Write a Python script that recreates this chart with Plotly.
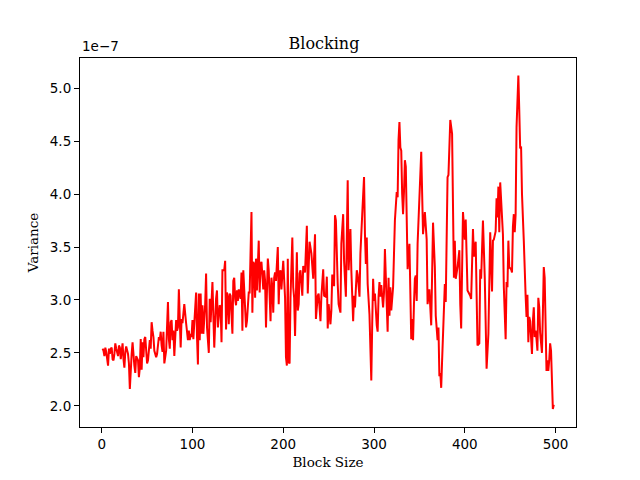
import plotly.graph_objects as go

# block sizes and variance (units of 1e-7)
block_size = [
    1, 2, 3, 4, 5, 7, 8, 9, 10, 11, 12, 13, 14, 15, 16, 18, 19, 20, 21, 22,
    23, 24, 25, 26, 27, 29, 30, 31, 32, 33, 34, 35, 36, 37, 38, 40, 41, 42, 43, 44,
    45, 46, 47, 48, 50, 51, 52, 53, 54, 55, 56, 57, 58, 60, 61, 62, 63, 64, 65, 66,
    67, 68, 69, 71, 72, 73, 74, 75, 76, 77, 78, 79, 80, 82, 83, 84, 85, 86, 87, 88,
    89, 90, 91, 93, 94, 95, 96, 97, 98, 99, 100, 101, 102, 104, 105, 106, 107, 108,
    109, 110, 111, 112, 114, 115, 116, 118, 119, 120, 122, 123, 124, 126, 127, 128,
    130, 131, 132, 133, 135, 136, 137, 138, 139, 140, 141, 142, 144, 145, 146, 147,
    148, 149, 150, 151, 153, 154, 155, 156, 157, 158, 159, 160, 162, 163, 164, 165,
    166, 167, 168, 169, 170, 171, 173, 174, 175, 176, 177, 178, 179, 180, 181, 183,
    184, 185, 186, 187, 188, 189, 190, 191, 192, 194, 195, 196, 197, 198, 199, 200,
    202, 203, 204, 205, 206, 207, 208, 210, 211, 212, 213, 214, 215, 216, 217, 218,
    219, 221, 222, 224, 226, 227, 229, 231, 233, 235, 236, 238, 239, 241, 242, 244,
    245, 247, 248, 249, 250, 252, 253, 254, 256, 257, 258, 260, 261, 263, 264, 266,
    267, 269, 271, 272, 274, 275, 277, 278, 279, 281, 282, 284, 285, 287, 289, 290,
    291, 292, 293, 295, 296, 297, 298, 299, 300, 301, 303, 304, 305, 306, 307, 308,
    310, 311, 312, 314, 315, 316, 317, 318, 319, 321, 322, 323, 325, 326, 327, 328,
    329, 330, 331, 332, 333, 334, 335, 336, 337, 339, 340, 341, 342, 343, 344, 345,
    346, 347, 348, 350, 352, 354, 356, 358, 359, 361, 362, 363, 365, 367, 368, 370,
    371, 372, 373, 374, 375, 376, 378, 379, 381, 382, 384, 386, 387, 388, 389, 390,
    392, 394, 395, 396, 398, 400, 401, 402, 403, 406, 407, 409, 410, 412, 413, 414,
    416, 417, 418, 419, 420, 422, 423, 424, 426, 427, 428, 430, 431, 432, 434, 435,
    436, 437, 438, 439, 441, 442, 443, 445, 446, 447, 448, 449, 451, 452, 453, 454,
    455, 456, 457, 459, 460, 461, 462, 463, 465, 466, 467, 468, 469, 470, 471, 472,
    474, 475, 476, 477, 478, 479, 480, 481, 482, 483, 485, 486, 487, 488, 489, 490,
    491, 492, 493, 494, 495, 496, 497, 498,
]
variance = [
    2.54, 2.52, 2.47, 2.55, 2.51, 2.38, 2.54, 2.49, 2.54, 2.55, 2.44, 2.43, 2.49, 2.59, 2.54, 2.47, 2.57, 2.55, 2.44, 2.54,
    2.59, 2.44, 2.36, 2.51, 2.56, 2.49, 2.40, 2.16, 2.40, 2.49, 2.60, 2.46, 2.38, 2.31, 2.47, 2.43, 2.27, 2.36, 2.63, 2.34,
    2.60, 2.46, 2.63, 2.65, 2.40, 2.43, 2.51, 2.62, 2.54, 2.79, 2.71, 2.65, 2.52, 2.46, 2.49, 2.62, 2.65, 2.62, 2.70, 2.57,
    2.51, 2.70, 2.40, 2.52, 2.84, 2.98, 2.63, 2.54, 2.79, 2.81, 2.62, 2.71, 2.47, 2.81, 2.71, 2.74, 3.10, 2.82, 2.55, 2.82,
    2.78, 2.87, 2.96, 2.78, 2.71, 2.62, 2.71, 2.62, 2.68, 2.65, 2.81, 2.63, 2.78, 3.07, 2.65, 2.39, 3.06, 2.62,
    3.06, 2.68, 2.95, 2.68, 2.96, 3.25, 2.74, 2.50, 3.01, 2.79, 3.17, 2.76, 2.55, 3.01, 3.09, 2.74,
    2.95, 2.93, 2.60, 3.28, 3.28, 3.37, 2.72, 3.07, 3.02, 2.77, 3.06, 3.04, 2.68, 3.18, 3.21, 3.01,
    2.95, 3.09, 2.99, 3.10, 3.01, 3.26, 2.71, 3.28, 3.07, 2.98, 2.74, 2.80, 3.07, 3.07, 3.34, 3.83,
    2.88, 3.36, 3.34, 3.02, 3.39, 3.09, 3.56, 3.07, 3.34, 3.36, 3.23, 3.10, 3.28, 3.18, 2.74, 3.39,
    3.28, 2.96, 2.80, 3.21, 3.12, 2.88, 3.21, 3.26, 3.18, 3.50, 2.96, 3.26, 3.28, 3.10, 3.25, 3.37,
    3.02, 2.46, 2.38, 3.39, 2.41, 2.40, 3.02, 3.59, 3.12, 3.02, 2.66, 3.02, 3.45, 2.90, 2.96, 3.25,
    3.28, 3.04, 3.32, 3.26, 3.70, 3.06, 3.55, 3.44, 3.20, 3.62, 2.82, 3.04, 3.06, 2.80, 3.03, 3.29,
    3.04, 3.03, 3.22, 2.73, 2.96, 2.77, 2.90, 3.24, 3.13, 3.80, 3.75, 3.15, 2.96, 2.88, 3.53, 3.81,
    3.37, 3.03, 4.13, 3.28, 3.67, 3.28, 2.80, 3.04, 2.93, 3.28, 3.24, 3.03, 3.44, 3.81, 4.16, 3.62,
    3.34, 3.59, 3.15, 2.86, 2.52, 2.24, 2.77, 3.20, 2.99, 3.06, 2.76, 2.70, 3.03, 3.17, 3.03, 3.14,
    2.93, 3.07, 3.48, 3.07, 2.70, 3.21, 2.85, 3.12, 2.90, 3.12, 3.53, 3.75, 4.02, 3.97, 4.51, 4.68,
    4.44, 4.41, 4.00, 3.81, 4.02, 4.32, 4.26, 3.84, 3.29, 3.53, 3.21, 2.63, 2.82, 2.62, 2.96, 3.20,
    3.23, 2.99, 3.53, 4.00, 4.40, 3.62, 3.83, 3.57, 2.96, 3.10, 2.96, 2.76, 3.73, 3.31, 2.85, 2.62,
    2.74, 2.28, 2.31, 2.17, 2.43, 2.66, 3.15, 2.98, 4.16, 4.18, 4.70, 4.57, 3.56, 3.21, 3.56, 3.20,
    3.31, 3.47, 2.96, 2.73, 3.83, 3.57, 3.76, 3.49, 3.09, 3.04, 3.01, 3.67, 3.41, 3.55, 3.00, 2.57,
    2.59, 3.29, 3.20, 3.64, 3.75, 3.21, 2.71, 2.35, 2.68, 3.03, 3.64, 3.08, 3.56, 3.57, 3.65, 3.96,
    3.78, 4.07, 3.64, 4.11, 3.75, 3.62, 3.12, 2.63, 3.17, 3.12, 3.56, 3.31, 3.29, 3.26, 3.69, 3.81,
    3.64, 3.81, 4.63, 5.12, 4.79, 4.43, 4.45, 4.00, 3.56, 3.18, 3.04, 2.84, 3.05, 2.60, 2.84, 2.80,
    2.49, 2.80, 2.93, 2.65, 2.71, 2.63, 2.52, 3.02, 2.93, 2.69, 2.50, 2.87, 3.31, 3.21, 2.77, 2.33,
    2.43, 2.33, 2.43, 2.59, 2.52, 2.24, 1.97, 2.01,
]

y_ticks = [2.0, 2.5, 3.0, 3.5, 4.0, 4.5, 5.0]
x_ticks = [0, 100, 200, 300, 400, 500]

serif = "DejaVu Serif"
sans = "DejaVu Sans"

# the page body adds an 8px offset, so the figure is drawn 8px smaller
W, H = 632, 472

fig = go.Figure()
fig.add_trace(
    go.Scatter(
        x=block_size, y=variance, mode="lines",
        line={"color": "red", "width": 2},
        showlegend=False,
    )
)

axis_common = dict(
    showgrid=False, zeroline=False,
    showline=True, linecolor="black", linewidth=1.1, mirror=True,
    ticks="outside", ticklen=5, tickwidth=1.1, tickcolor="black",
    tickfont={"family": sans, "size": 13.5, "color": "black"},
)

fig.update_layout(
    width=W, height=H,
    margin={"l": 72, "r": 64, "t": 50, "b": 53},
    paper_bgcolor="white", plot_bgcolor="white",
    title={
        "text": "Blocking", "x": 0.5, "xanchor": "center",
        "y": 1 - 41 / H, "yanchor": "bottom",
        "font": {"family": serif, "size": 16, "color": "black"},
    },
    xaxis=dict(
        axis_common, range=[-23.9, 522.5], tickvals=x_ticks,
        title={"text": "Block Size", "standoff": 6,
               "font": {"family": serif, "size": 13.5, "color": "black"}},
    ),
    yaxis=dict(
        axis_common, range=[1.80, 5.285], tickvals=y_ticks, tickformat=".1f",
        title={"text": "Variance", "standoff": 8,
               "font": {"family": serif, "size": 13.5, "color": "black"}},
    ),
    annotations=[
        {
            "text": "1e\u22127", "xref": "paper", "yref": "paper",
            "x": 0, "y": 1, "xanchor": "left", "yanchor": "bottom",
            "yshift": 2, "showarrow": False,
            "font": {"family": sans, "size": 13.5, "color": "black"},
        }
    ],
)

fig.write_html("out.html")
